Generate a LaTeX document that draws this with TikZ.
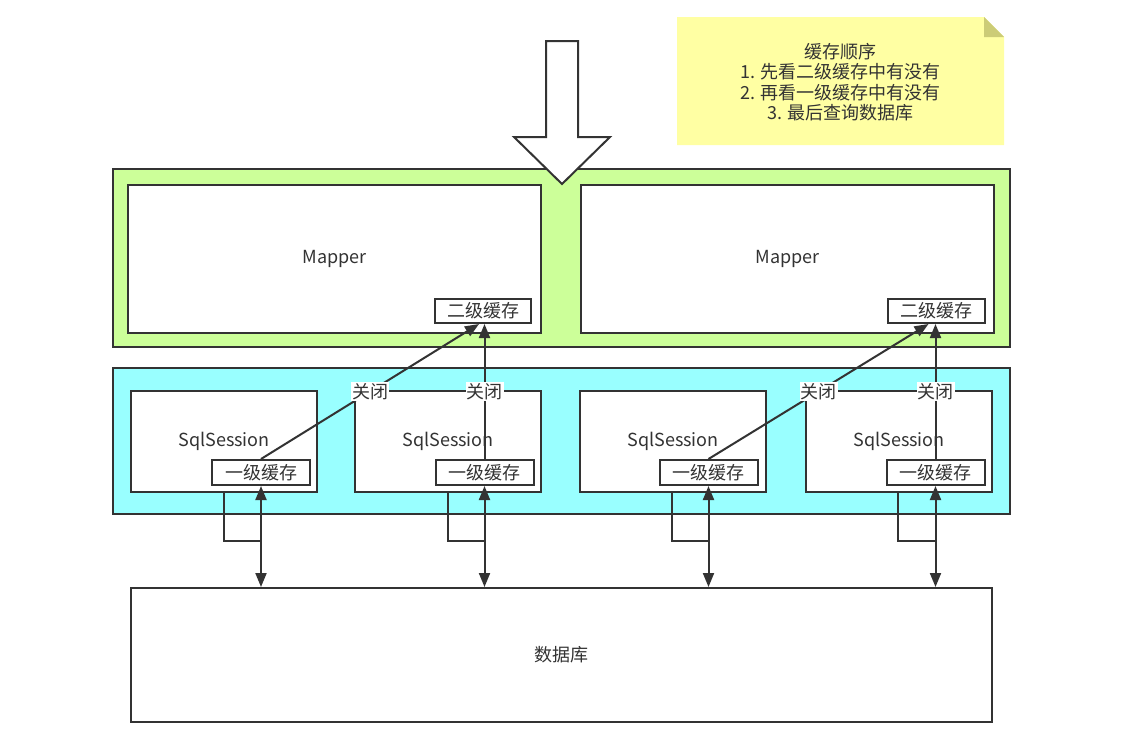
\documentclass[tikz,border=0pt]{standalone}
\usepackage{fontspec}
\setmainfont{Noto Sans CJK SC}
\usetikzlibrary{arrows.meta}
\definecolor{ink}{HTML}{333333}
\definecolor{greenfill}{HTML}{CCFF99}
\definecolor{cyanfill}{HTML}{99FFFF}
\definecolor{notefill}{HTML}{FFFFA3}
\definecolor{foldfill}{HTML}{CCCC77}
\begin{document}
\begin{tikzpicture}[x=1pt,y=-1pt,
  every node/.style={font=\fontsize{18}{20.5}\selectfont, text=ink},
  box/.style={draw=ink, line width=2pt, fill=white, inner sep=0pt},
  conn/.style={draw=ink, line width=2pt},
  tip/.style={-{Triangle[length=14pt,width=11pt]}},
  dtip/.style={{Triangle[length=14pt,width=11pt]}-{Triangle[length=14pt,width=11pt]}},
  lbl/.style={fill=white, inner sep=1pt}]
\useasboundingbox (0,0) rectangle (1129,748);
% note
\fill[notefill] (677,17) -- (984,17) -- (1004,37) -- (1004,145) -- (677,145) -- cycle;
\fill[foldfill] (984,17) -- (984,37) -- (1004,37) -- cycle;
\node[align=center] (note) at (840.5,82) {缓存顺序\\1. 先看二级缓存中有没有\\2. 再看一级缓存中有没有\\3. 最后查询数据库};
% containers
\node[box, fill=greenfill, minimum width=897pt, minimum height=178pt] (green) at (561.5,258) {};
\node[box, fill=cyanfill, minimum width=897pt, minimum height=146pt] (cyan) at (561.5,441) {};
% mappers
\node[box, minimum width=413pt, minimum height=148pt] (m1) at (334.5,259) {Mapper};
\node[box, minimum width=413pt, minimum height=148pt] (m2) at (787.5,259) {Mapper};
\node[box, minimum width=96pt, minimum height=24pt] (e1) at (483,311) {二级缓存};
\node[box, minimum width=97pt, minimum height=24pt] (e2) at (936.5,311) {二级缓存};
% big arrow
\draw[ink, line width=2pt, fill=white, line join=miter] (546,41) -- (578,41) -- (578,137) -- (610,137) -- (562,184) -- (514,137) -- (546,137) -- cycle;
% sessions
\foreach \i/\sx/\cx in {1/224/261, 2/448/484.5, 3/673/708.5, 4/899/935.5} {
  \node[box, minimum width=186pt, minimum height=101pt] (s\i) at (\sx,441.5) {SqlSession};
  \node[box, minimum width=98pt, minimum height=25pt] (c\i) at (\cx,472.5) {一级缓存};
}
% database
\node[box, minimum width=861pt, minimum height=134pt] (db) at (561.5,655) {数据库};
% close connectors
\draw[conn, tip] (c1.north) -- node[lbl] {关闭} ([xshift=-4pt]e1.south);
\draw[conn, tip] (c2.north) -- node[lbl] {关闭} (c2.north |- e1.south);
\draw[conn, tip] (c3.north) -- node[lbl] {关闭} ([xshift=-8pt]e2.south);
\draw[conn, tip] (c4.north) -- node[lbl] {关闭} (c4.north |- e2.south);
% database connectors
\coordinate (k1) at (224,541);
\coordinate (k2) at (448,541);
\coordinate (k3) at (672,541);
\coordinate (k4) at (898,541);
\foreach \i in {1,2,3,4} {
  \draw[conn] (k\i |- s\i.south) -- (k\i) -- (k\i -| c\i.south);
  \draw[conn, dtip] (c\i.south) -- (c\i.south |- db.north);
}
\end{tikzpicture}
\end{document}
